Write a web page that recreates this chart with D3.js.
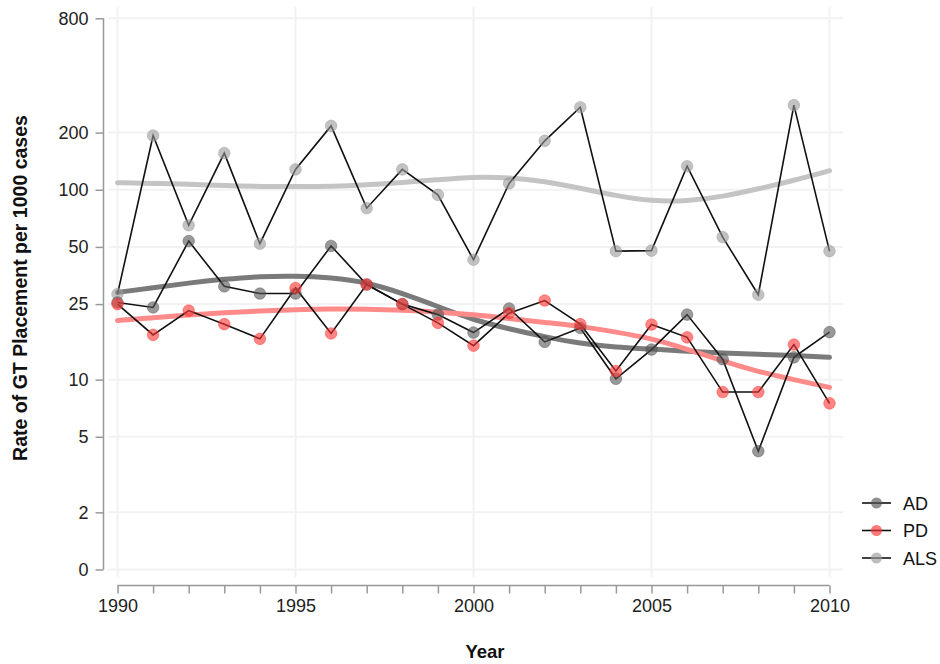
<!DOCTYPE html>
<html><head><meta charset="utf-8">
<script src="https://cdn.jsdelivr.net/npm/d3@7"></script>
<style>body{margin:0;background:#fff;} svg{display:block;}</style>
</head><body>
<svg id="c" width="940" height="664"></svg>
<script>
const years = d3.range(1990, 2011);
const adValues  = [25.5,24,53.7,31,28.4,28.4,50.6,31.7,25,22,17.7,23.7,15.8,18.7,10.1,14.4,22,12.8,4.2,13.1,17.8];
const pdValues  = [25,17.2,23.1,19.6,16.4,30.4,17.5,31.7,25,19.9,15.1,22.4,26.1,19.6,11.1,19.5,16.7,8.6,8.6,15.3,7.5];
const alsValues = [28.2,193,65,156,52,128,217,80,128,94,42.8,108,181,272,47.5,47.8,133,56.3,28,279,47.5];
const adSmooth  = [28.8,30.5,32.3,33.8,35,35.2,34.5,32.6,28.5,24.3,20.6,18.5,16.8,15.5,14.8,14.5,14.1,13.8,13.6,13.4,13.1];
const pdSmooth  = [20.5,21.2,21.9,22.5,23,23.4,23.6,23.5,23.2,22.7,22,21,20,19.1,17.8,16.5,14.5,12.5,11,10,9.1];
const alsSmooth = [109,108,107,105,104,104,104,106,109,113,117,116,111,102,93,87,87,92,101,112,126];
const yTickValues = [1,2,5,10,25,50,100,200,800];
const yTickLabels = ["0","2","5","10","25","50","100","200","800"];
const xTickLabelYears = [1990,1995,2000,2005,2010];
const seriesNames = ["AD","PD","ALS"];

const svg = d3.select("#c");
const font = "'Liberation Sans', Arial, Helvetica, sans-serif";
const x = d3.scaleLinear().domain([1990,2010]).range([117.5,829.5]);
const y = d3.scaleLog().domain([1,800]).range([569.5,18.3]);

// grid
const g = svg.append("g");
g.selectAll(".hg").data(yTickValues).join("line")
  .attr("x1",108).attr("x2",843).attr("y1",d=>y(d)).attr("y2",d=>y(d))
  .attr("stroke","#f2f2f2").attr("stroke-width",2);
g.selectAll(".vg").data(xTickLabelYears).join("line")
  .attr("y1",7).attr("y2",577).attr("x1",d=>x(d)).attr("x2",d=>x(d))
  .attr("stroke","#f2f2f2").attr("stroke-width",2);

// y axis
const yAxis = d3.axisLeft(y).tickValues(yTickValues).tickSize(8).tickPadding(7)
  .tickFormat((d,i)=>yTickLabels[i]);
const ya = svg.append("g").attr("transform","translate(103.5,0)").call(yAxis);
ya.select(".domain").attr("d",`M0,${y(800)}V${y(1)}`).attr("stroke","#999").attr("stroke-width",1.5);
ya.selectAll(".tick line").attr("stroke","#999").attr("stroke-width",1.5);
ya.selectAll(".tick text").attr("font-family",font).attr("font-size",18).attr("fill","#222");

// x axis
const xAxis = d3.axisBottom(x).tickValues(years).tickSize(8).tickPadding(6)
  .tickFormat(d=>xTickLabelYears.includes(d)?String(d):"");
const xa = svg.append("g").attr("transform","translate(0,585.5)").call(xAxis);
xa.select(".domain").attr("d",`M${x(1990)},0H${x(2010)}`).attr("stroke","#999").attr("stroke-width",1.5);
xa.selectAll(".tick line").attr("stroke","#999").attr("stroke-width",1.5);
xa.selectAll(".tick text").attr("font-family",font).attr("font-size",18).attr("fill","#222");

// titles
svg.append("text").attr("x",485).attr("y",658).attr("text-anchor","middle")
  .attr("font-family",font).attr("font-weight","bold").attr("font-size",18.5).attr("fill","#111").text("Year");
svg.append("text").attr("transform","translate(27,288) rotate(-90)").attr("text-anchor","middle")
  .attr("font-family",font).attr("font-weight","bold").attr("font-size",19.5).attr("fill","#111")
  .text("Rate of GT Placement per 1000 cases");

const line = d3.line().x((d,i)=>x(years[i])).y(d=>y(d));
const smoothLine = d3.line().x((d,i)=>x(years[i])).y(d=>y(d)).curve(d3.curveBasis);

const cols = {AD:"#555555", PD:"#ff3333", ALS:"#999999"};
const smoothCols = {AD:"#7a7a7a", PD:"#ff8a8a", ALS:"#c4c4c4"};
const raw = {AD:adValues, PD:pdValues, ALS:alsValues};
const sm = {AD:adSmooth, PD:pdSmooth, ALS:alsSmooth};

["ALS","AD","PD"].forEach(k=>{
  svg.append("path").datum(sm[k]).attr("d",smoothLine).attr("fill","none")
    .attr("stroke",smoothCols[k]).attr("stroke-width",5).attr("stroke-linecap","round");
});
["ALS","AD","PD"].forEach(k=>{
  svg.append("path").datum(raw[k]).attr("d",line).attr("fill","none")
    .attr("stroke","#111").attr("stroke-width",1.6);
});
["ALS","AD","PD"].forEach(k=>{
  svg.append("g").selectAll("circle").data(raw[k]).join("circle")
    .attr("cx",(d,i)=>x(years[i])).attr("cy",d=>y(d)).attr("r",5.8)
    .attr("fill",cols[k]).attr("fill-opacity",0.6)
    .attr("stroke",cols[k]).attr("stroke-opacity",0.45).attr("stroke-width",1);
});

// legend
const lg = svg.append("g");
seriesNames.forEach((k,i)=>{
  const yy = 503 + i*27.5;
  lg.append("line").attr("x1",862).attr("x2",891).attr("y1",yy).attr("y2",yy).attr("stroke","#111").attr("stroke-width",1.6);
  lg.append("circle").attr("cx",876.5).attr("cy",yy).attr("r",5.5).attr("fill",cols[k]).attr("fill-opacity",0.65);
  lg.append("text").attr("x",903).attr("y",yy+6.5).attr("font-family",font).attr("font-size",18).attr("fill","#111").text(k);
});
</script>
</body></html>
